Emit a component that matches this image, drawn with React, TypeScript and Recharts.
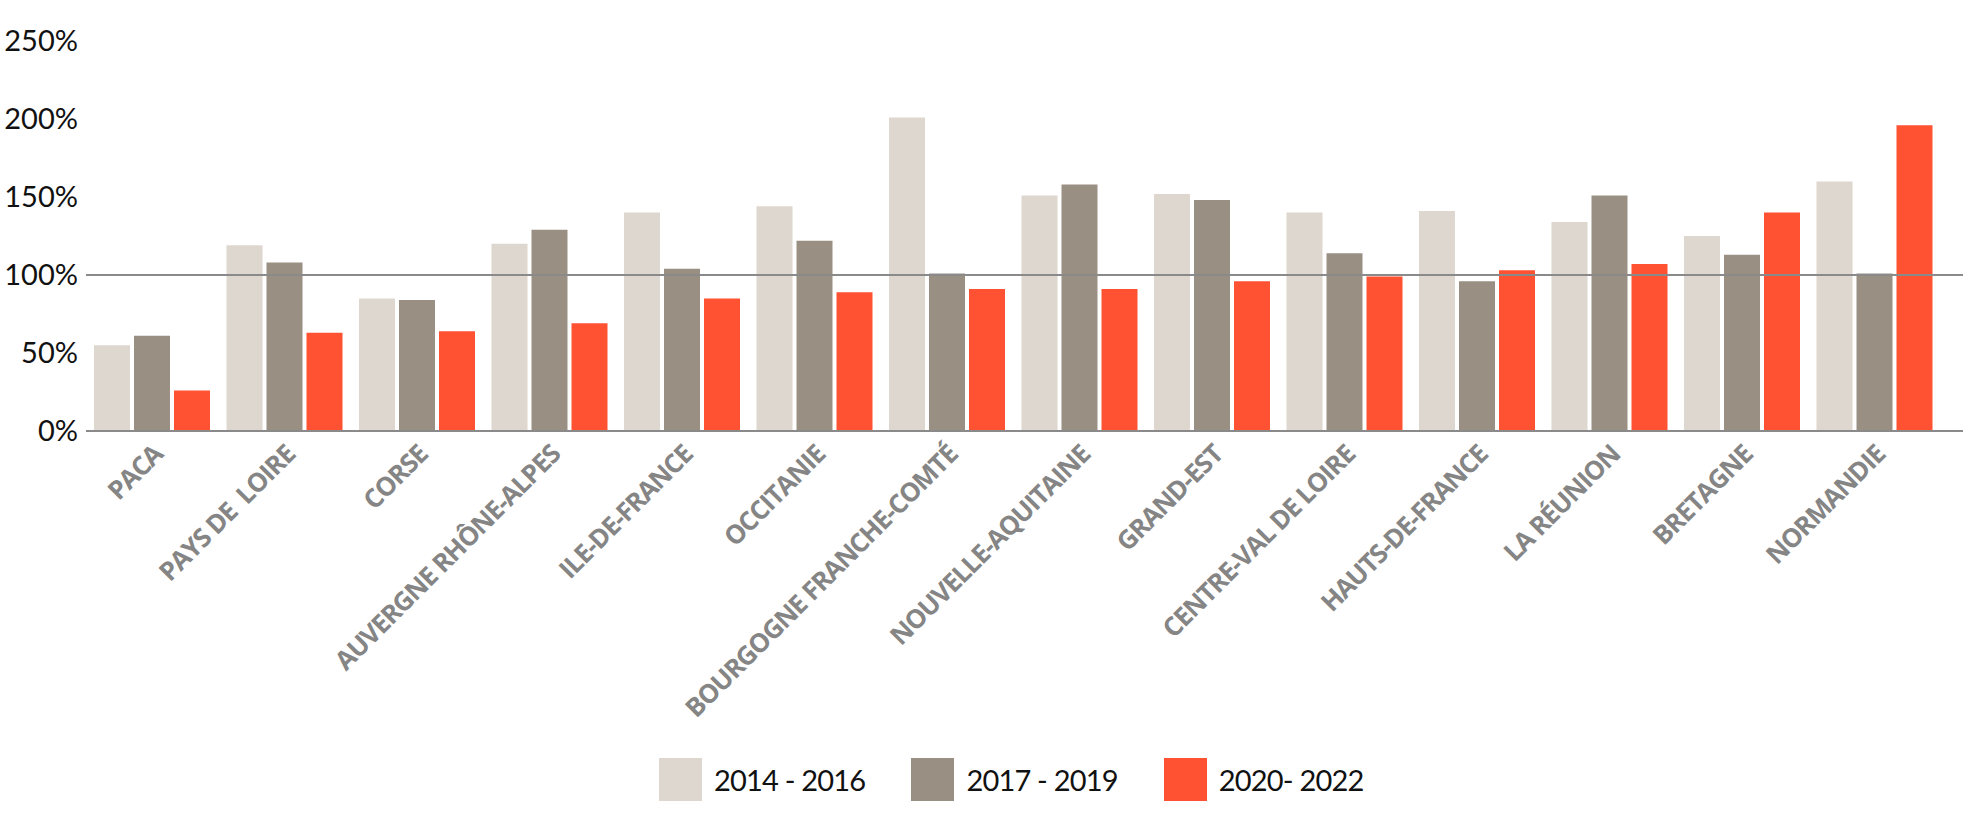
import React from "react";
import {
  Bar,
  BarChart,
  Legend,
  ReferenceLine,
  XAxis,
  YAxis,
} from "recharts";

const WIDTH = 1963;
const HEIGHT = 826;

const regions = [
  "PACA",
  "PAYS DE  LOIRE",
  "CORSE",
  "AUVERGNE RHÔNE-ALPES",
  "ILE-DE-FRANCE",
  "OCCITANIE",
  "BOURGOGNE FRANCHE-COMTÉ",
  "NOUVELLE-AQUITAINE",
  "GRAND-EST",
  "CENTRE-VAL DE LOIRE",
  "HAUTS-DE-FRANCE",
  "LA RÉUNION",
  "BRETAGNE",
  "NORMANDIE",
];

const period2014 = [55, 119, 85, 120, 140, 144, 201, 151, 152, 140, 141, 134, 125, 160];
const period2017 = [61, 108, 84, 129, 104, 122, 101, 158, 148, 114, 96, 151, 113, 101];
const period2020 = [26, 63, 64, 69, 85, 89, 91, 91, 96, 99, 103, 107, 140, 196];

const seriesNames = ["2014 - 2016", "2017 - 2019", "2020- 2022"];
const seriesColors = ["#ded7d0", "#998f82", "#ff5233"];

const yTicks = [0, 50, 100, 150, 200, 250];

const data = regions.map((region, i) => ({
  region,
  p2014: period2014[i],
  p2017: period2017[i],
  p2020: period2020[i],
}));

function RegionTick({ x, y, payload }: any) {
  const ax = x + 12;
  const ay = y + 17;
  return (
    <text
      x={ax}
      y={ay}
      transform={`rotate(-45, ${ax}, ${ay})`}
      textAnchor="end"
      fill="#858585"
      fontSize={26}
      fontWeight={700}
      fontFamily="Open Sans"
      letterSpacing={-1.1}
      style={{ whiteSpace: "pre" }}
    >
      {payload.value}
    </text>
  );
}

function LegendContent({ payload }: any) {
  return (
    <div style={{ display: "flex", paddingLeft: 659, alignItems: "center" }}>
      {(payload || []).map((entry: any) => (
        <div
          key={entry.value}
          style={{ display: "flex", alignItems: "center", marginRight: 46 }}
        >
          <span
            style={{
              width: 43,
              height: 43,
              background: entry.color,
              display: "inline-block",
              marginRight: 12,
            }}
          />
          <span
            style={{
              fontFamily: "Lato",
              fontSize: 29,
              color: "#111",
              letterSpacing: -0.8,
            }}
          >
            {entry.value}
          </span>
        </div>
      ))}
    </div>
  );
}

export default function App() {
  return (
    <div style={{ position: "absolute", left: 0, top: 0, width: WIDTH, height: HEIGHT, background: "#fff" }}>
      <BarChart
        width={WIDTH}
        height={HEIGHT}
        data={data}
        margin={{ top: 41, right: 0, left: 0, bottom: 321 }}
        barSize={36}
        barGap={4}
      >
        <XAxis
          dataKey="region"
          interval={0}
          tickLine={false}
          axisLine={{ stroke: "#8a8a8a", strokeWidth: 2 }}
          tick={<RegionTick />}
          height={30}
          padding={{ left: 0, right: 22 }}
        />
        <YAxis
          domain={[0, 250]}
          ticks={yTicks}
          width={86}
          axisLine={false}
          tickLine={false}
          tickFormatter={(v: number) => `${v}%`}
          tick={{ fill: "#111", fontSize: 29, fontFamily: "Lato" }}
        />
        <Bar dataKey="p2014" name={seriesNames[0]} fill={seriesColors[0]} isAnimationActive={false} />
        <Bar dataKey="p2017" name={seriesNames[1]} fill={seriesColors[1]} isAnimationActive={false} />
        <Bar dataKey="p2020" name={seriesNames[2]} fill={seriesColors[2]} isAnimationActive={false} />
        <ReferenceLine y={100} stroke="#8a8a8a" strokeWidth={2} />
        <Legend
          verticalAlign="bottom"
          content={<LegendContent />}
          wrapperStyle={{ top: 758, left: 0, bottom: "auto", width: WIDTH, height: 44 }}
        />
      </BarChart>
    </div>
  );
}
